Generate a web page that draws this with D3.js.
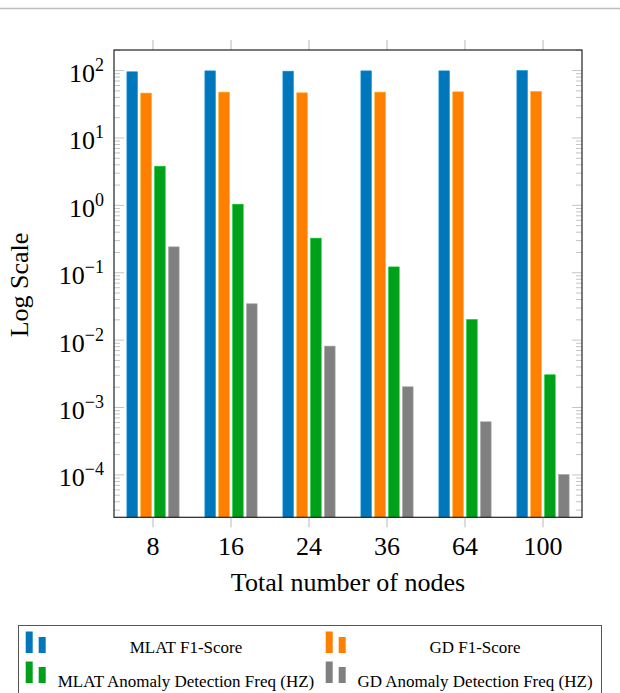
<!DOCTYPE html>
<html>
<head>
<meta charset="utf-8">
<script src="https://cdn.jsdelivr.net/npm/d3@7/dist/d3.min.js"></script>
<style>
  html, body { margin: 0; padding: 0; background: #fff; }
  svg { display: block; }
  text { font-family: "Liberation Serif", "Times New Roman", serif; fill: #000; }
</style>
</head>
<body>
<svg id="chart" width="620" height="693"></svg>
<script>
// Node counts on the x axis
const categories = ["8", "16", "24", "36", "64", "100"];

// Series names and values per node count
const seriesNames = [
  "MLAT F1-Score",
  "GD F1-Score",
  "MLAT Anomaly Detection Freq (HZ)",
  "GD Anomaly Detection Freq (HZ)"
];
const mlatF1   = [96, 99, 98, 99, 99, 100];
const gdF1     = [46.3, 47.8, 46.7, 47.8, 48.3, 48.8];
const mlatFreq = [3.8, 1.04, 0.326, 0.122, 0.0202, 0.00306];
const gdFreq   = [0.242, 0.0346, 0.00815, 0.00203, 0.000614, 0.000101];
const seriesColors = ["#0077bb", "#ff8000", "#00a01a", "#808080"];

// Exponents labelled on the log axis
const yTickExponents = [2, 1, 0, -1, -2, -3, -4];
const yDomain = [2.35e-5, 202];

const xTitle = "Total number of nodes";
const yTitle = "Log Scale";

const seriesValues = [mlatF1, gdF1, mlatFreq, gdFreq];

const svg = d3.select("#chart");
const plot = { left: 114, right: 582, top: 50, bottom: 517.3 };

// Thin rule across the top of the page
svg.append("line")
  .attr("x1", 0).attr("x2", 620).attr("y1", 8.5).attr("y2", 8.5)
  .attr("stroke", "#bdbdbd").attr("stroke-width", 1.5);

const x = d3.scaleBand().domain(categories).range([plot.left, plot.right]).padding(0);
const groupHalf = 27.8;
const x1 = d3.scaleBand().domain(d3.range(seriesNames.length)).range([-groupHalf, groupHalf]).padding(0);
const barW = 10.5;
const y = d3.scaleLog().domain(yDomain).range([plot.bottom, plot.top]);

// Minor and major ticks on the log axis, drawn inside on both sides
const tickVals = [];
for (let e = -5; e <= 2; e++) {
  for (let m = 1; m <= 9; m++) {
    const v = m * Math.pow(10, e);
    if (v >= yDomain[0] && v <= yDomain[1]) tickVals.push({ v, major: m === 1 });
  }
}
const ticksG = svg.append("g");
ticksG.selectAll("line.l").data(tickVals).join("line")
  .attr("x1", plot.left).attr("x2", d => plot.left + (d.major ? 10 : 6))
  .attr("y1", d => y(d.v)).attr("y2", d => y(d.v))
  .attr("stroke", "#c4c4c4").attr("stroke-width", 1);
ticksG.selectAll("line.r").data(tickVals).join("line")
  .attr("x1", plot.right).attr("x2", d => plot.right - (d.major ? 10 : 6))
  .attr("y1", d => y(d.v)).attr("y2", d => y(d.v))
  .attr("stroke", "#c4c4c4").attr("stroke-width", 1);

// Category ticks outside the frame, top and bottom
const catTicks = svg.append("g");
categories.forEach(c => {
  const cx = x(c) + x.bandwidth() / 2;
  catTicks.append("line").attr("x1", cx).attr("x2", cx)
    .attr("y1", plot.top - 10).attr("y2", plot.top)
    .attr("stroke", "#cfcfcf").attr("stroke-width", 1.5);
  catTicks.append("line").attr("x1", cx).attr("x2", cx)
    .attr("y1", plot.bottom).attr("y2", plot.bottom + 10)
    .attr("stroke", "#cfcfcf").attr("stroke-width", 1.5);
});

// Bars
const barData = [];
categories.forEach((c, i) => {
  seriesValues.forEach((vals, s) => barData.push({ c, s, v: vals[i] }));
});
svg.append("g").selectAll("rect").data(barData).join("rect")
  .attr("x", d => x(d.c) + x.bandwidth() / 2 + x1(d.s) + (x1.bandwidth() - barW) / 2)
  .attr("width", barW)
  .attr("y", d => y(d.v))
  .attr("height", d => plot.bottom - y(d.v))
  .attr("fill", d => seriesColors[d.s])
  .attr("stroke", d => d3.color(seriesColors[d.s]).brighter(0.6))
  .attr("stroke-width", 0.6);

// Frame
svg.append("rect")
  .attr("x", plot.left).attr("y", plot.top)
  .attr("width", plot.right - plot.left).attr("height", plot.bottom - plot.top)
  .attr("fill", "none").attr("stroke", "#222").attr("stroke-width", 1.2);

// Y tick labels: 10 with superscript exponent
const yLab = svg.append("g");
yTickExponents.forEach(e => {
  const ty = y(Math.pow(10, e));
  const t = yLab.append("text")
    .attr("x", 104).attr("y", ty + 11.5)
    .attr("text-anchor", "end")
    .style("font-size", "26px");
  t.append("tspan").text("10");
  t.append("tspan")
    .attr("dy", -11)
    .style("font-size", "18px")
    .text(e < 0 ? "\u2212" + Math.abs(e) : String(e));
});

// X tick labels
svg.append("g").selectAll("text").data(categories).join("text")
  .attr("x", d => x(d) + x.bandwidth() / 2)
  .attr("y", 555)
  .attr("text-anchor", "middle")
  .style("font-size", "26px")
  .text(d => d);

// Axis titles
svg.append("text")
  .attr("x", (plot.left + plot.right) / 2).attr("y", 591)
  .attr("text-anchor", "middle")
  .style("font-size", "26px")
  .text(xTitle);
svg.append("text")
  .attr("transform", "translate(28,285) rotate(-90)")
  .attr("text-anchor", "middle")
  .style("font-size", "26px")
  .text(yTitle);

// Legend
const legend = svg.append("g");
legend.append("rect")
  .attr("x", 18.5).attr("y", 625.5).attr("width", 583).attr("height", 80)
  .attr("fill", "#fff").attr("stroke", "#555").attr("stroke-width", 1);
const legendCells = [
  { s: 0, ix: 25.7, tx: 186, base: 653 },
  { s: 1, ix: 325.7, tx: 475, base: 653 },
  { s: 2, ix: 25.7, tx: 186, base: 683 },
  { s: 3, ix: 325.7, tx: 475, base: 683 }
];
legendCells.forEach(cell => {
  const col = seriesColors[cell.s];
  legend.append("rect").attr("x", cell.ix).attr("y", cell.base - 21.5)
    .attr("width", 7).attr("height", 21.5).attr("fill", col);
  legend.append("rect").attr("x", cell.ix + 13).attr("y", cell.base - 16)
    .attr("width", 7).attr("height", 16).attr("fill", col);
  legend.append("text")
    .attr("x", cell.tx).attr("y", cell.base + (cell.s >= 2 ? 4 : 0))
    .attr("text-anchor", "middle")
    .style("font-size", "17px")
    .text(seriesNames[cell.s]);
});
</script>
</body>
</html>
